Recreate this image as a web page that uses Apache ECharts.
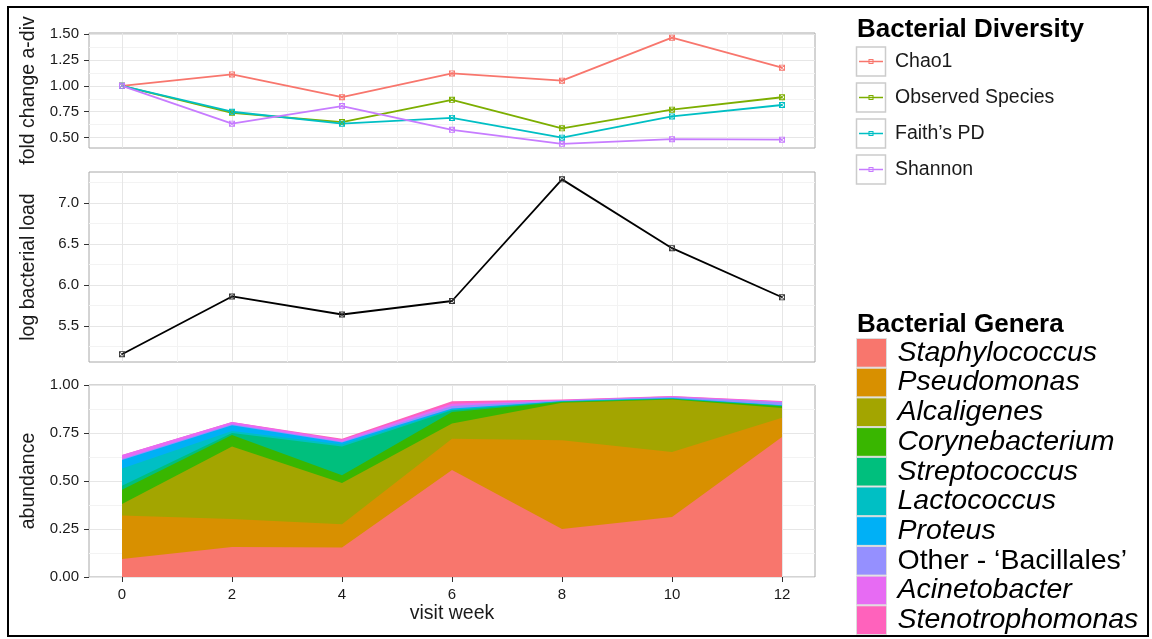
<!DOCTYPE html>
<html>
<head>
<meta charset="utf-8">
<script src="https://cdn.jsdelivr.net/npm/echarts@6.0.0/dist/echarts.min.js"></script>
<style>
  html, body { margin: 0; padding: 0; background: #fff; }
  #chart { width: 1152px; height: 639px; }
</style>
</head>
<body>
<div id="chart"></div>
<script>
  // visit weeks (shared x)
  var weeks = [0, 2, 4, 6, 8, 10, 12];
  var weekTicks = [0, 2, 4, 6, 8, 10, 12];
  var weekMinor = [1, 3, 5, 7, 9, 11];

  // fold change alpha diversity
  var chao1 = [1.00, 1.11, 0.89, 1.12, 1.05, 1.465, 1.175];
  var observedSpecies = [1.00, 0.74, 0.65, 0.865, 0.59, 0.77, 0.89];
  var faithsPD = [1.00, 0.75, 0.635, 0.69, 0.50, 0.705, 0.815];
  var shannon = [1.00, 0.635, 0.805, 0.575, 0.44, 0.485, 0.48];
  var divTicks = [0.50, 0.75, 1.00, 1.25, 1.50];
  var divMinor = [0.625, 0.875, 1.125, 1.375];

  // log bacterial load
  var bacterialLoad = [5.155, 5.86, 5.64, 5.805, 7.29, 6.45, 5.85];
  var loadTicks = [5.5, 6.0, 6.5, 7.0];
  var loadMinor = [5.25, 5.75, 6.25, 6.75, 7.25];

  // relative abundance per genus (stacked, bottom to top)
  var staphylococcus = [0.094, 0.156, 0.153, 0.557, 0.25, 0.313, 0.729];
  var pseudomonas = [0.226, 0.146, 0.122, 0.163, 0.462, 0.338, 0.101];
  var alcaligenes = [0.06, 0.378, 0.215, 0.08, 0.196, 0.273, 0.05];
  var corynebacterium = [0.075, 0.06, 0.04, 0.06, 0.004, 0.003, 0.009];
  var streptococcus = [0.02, 0.01, 0.15, 0.008, 0.002, 0.002, 0.002];
  var lactococcus = [0.09, 0.01, 0.01, 0.005, 0.001, 0.001, 0.002];
  var proteus = [0.045, 0.03, 0.01, 0.005, 0.001, 0.002, 0.002];
  var otherBacillales = [0.005, 0.005, 0.005, 0.012, 0.004, 0.006, 0.015];
  var acinetobacter = [0.02, 0.012, 0.01, 0.012, 0.002, 0.003, 0.004];
  var stenotrophomonas = [0.0, 0.0, 0.005, 0.013, 0.002, 0.002, 0.003];
  var abundTicks = [0, 0.25, 0.5, 0.75, 1.0];
  var abundMinor = [0.125, 0.375, 0.625, 0.875];

  var FONT = '"Liberation Sans", Arial, sans-serif';
  var TXT = '#1a1a1a';

  // square-with-cross marker (ggplot shape 7)
  var boxX = 'path://M0,0H10V10H0Z M1.5,1.5V8.5H8.5V1.5Z M0.8,0L5,4.2L9.2,0L10,0.8L5.8,5L10,9.2L9.2,10L5,5.8L0.8,10L0,9.2L4.2,5L0,0.8Z';
  // legend key: line + small square
  var keyIcon = 'path://M0,0h0.01v0.01h-0.01Z M29.99,28.99h0.01v0.01h-0.01Z M3,13.7H27V15.3H3Z M12.5,12H17.5V17H12.5Z M13.5,13V16H16.5V13Z';

  function pairs(vals) {
    return weeks.map(function (w, i) { return [w, vals[i]]; });
  }

  var grids = [
    {left: 89, top: 33, width: 726, height: 115},
    {left: 89, top: 172, width: 726, height: 190},
    {left: 89, top: 385, width: 726, height: 192}
  ].map(function (g) {
    g.show = true;
    g.borderColor = '#a8a8a8';
    g.borderWidth = 1;
    g.backgroundColor = 'transparent';
    return g;
  });

  function mainX(gi, showLabels) {
    return {
      type: 'value', gridIndex: gi, min: -0.6, max: 12.6,
      axisLine: {show: false, onZero: false},
      axisTick: {show: showLabels, customValues: weekTicks, length: 5, lineStyle: {color: '#333'}},
      axisLabel: {show: showLabels, customValues: weekTicks, margin: 10, fontSize: 15, fontFamily: FONT, color: TXT},
      splitLine: {show: true, lineStyle: {color: '#e6e6e6', width: 1}},
      name: showLabels ? 'visit week' : '',
      nameLocation: 'middle', nameGap: 27,
      nameTextStyle: {fontSize: 19.5, fontFamily: FONT, color: TXT}
    };
  }
  function minorX(gi) {
    return {
      type: 'value', gridIndex: gi, min: -0.6, max: 12.6, position: 'bottom',
      axisLine: {show: false, onZero: false},
      axisTick: {show: false, customValues: weekMinor},
      axisLabel: {show: false},
      splitLine: {show: true, lineStyle: {color: '#f3f3f3', width: 1}}
    };
  }
  function mainY(gi, min, max, ticks, dec, name) {
    return {
      type: 'value', gridIndex: gi, min: min, max: max,
      axisLine: {show: false, onZero: false},
      axisTick: {show: true, customValues: ticks, length: 5, lineStyle: {color: '#333'}},
      axisLabel: {customValues: ticks, margin: 10, fontSize: 15, fontFamily: FONT, color: TXT,
        formatter: function (v) { return v.toFixed(dec); }},
      splitLine: {show: true, lineStyle: {color: '#e6e6e6', width: 1}},
      name: name, nameLocation: 'middle', nameRotate: 90, nameGap: 50,
      nameTextStyle: {fontSize: 19.5, fontFamily: FONT, color: TXT}
    };
  }
  function minorY(gi, min, max, ticks) {
    return {
      type: 'value', gridIndex: gi, min: min, max: max, position: 'left',
      axisLine: {show: false, onZero: false},
      axisTick: {show: false, customValues: ticks},
      axisLabel: {show: false},
      splitLine: {show: true, lineStyle: {color: '#f3f3f3', width: 1}}
    };
  }

  var divSeries = [
    ['Chao1', chao1, '#F8766D'],
    ['Observed Species', observedSpecies, '#7CAE00'],
    ['Faith\u2019s PD', faithsPD, '#00BFC4'],
    ['Shannon', shannon, '#C77CFF']
  ].map(function (s) {
    return {
      name: s[0], type: 'line', xAxisIndex: 0, yAxisIndex: 0,
      data: pairs(s[1]), symbol: boxX, symbolSize: 6,
      itemStyle: {color: s[2]}, lineStyle: {color: s[2], width: 1.8},
      z: 5
    };
  });

  var loadSeries = {
    name: 'load', type: 'line', xAxisIndex: 1, yAxisIndex: 1,
    data: pairs(bacterialLoad), symbol: boxX, symbolSize: 6,
    itemStyle: {color: '#333'}, lineStyle: {color: '#000', width: 1.8}, z: 5
  };

  var genera = [
    ['Staphylococcus', staphylococcus, '#F8766D'],
    ['Pseudomonas', pseudomonas, '#D89000'],
    ['Alcaligenes', alcaligenes, '#A3A500'],
    ['Corynebacterium', corynebacterium, '#39B600'],
    ['Streptococcus', streptococcus, '#00BF7D'],
    ['Lactococcus', lactococcus, '#00BFC4'],
    ['Proteus', proteus, '#00B0F6'],
    ['Other - \u2018Bacillales\u2019', otherBacillales, '#9590FF'],
    ['Acinetobacter', acinetobacter, '#E76BF3'],
    ['Stenotrophomonas', stenotrophomonas, '#FF62BC']
  ];
  // running totals so each layer's area reaches the top of its band;
  // drawn top band first so lower bands paint over it
  var running = weeks.map(function () { return 0; });
  var genusSeries = genera.map(function (g) {
    running = running.map(function (r, i) { return r + g[1][i]; });
    return {
      name: g[0], type: 'line', xAxisIndex: 2, yAxisIndex: 2,
      data: pairs(running), showSymbol: false, symbol: 'none',
      itemStyle: {color: g[2]}, lineStyle: {width: 0, color: g[2]},
      areaStyle: {color: g[2], opacity: 1}, z: 3
    };
  }).reverse();

  var keyFrames = [0, 1, 2, 3].map(function (i) {
    return {
      type: 'rect', shape: {x: 856.5, y: 47 + i * 36, width: 29, height: 29},
      style: {fill: 'none', stroke: '#cccccc', lineWidth: 1.5}, z: 1
    };
  });

  var option = {
    animation: false,
    backgroundColor: '#fff',
    title: [
      {text: 'Bacterial Diversity', left: 857, top: 17, padding: 0,
        textStyle: {fontSize: 26, fontWeight: 'bold', fontFamily: FONT, color: '#000'}},
      {text: 'Bacterial Genera', left: 857, top: 312, padding: 0,
        textStyle: {fontSize: 26, fontWeight: 'bold', fontFamily: FONT, color: '#000'}}
    ],
    legend: [
      {
        orient: 'vertical', left: 856, top: 47, padding: 0,
        itemWidth: 30, itemHeight: 29, itemGap: 7, selectedMode: false,
        data: divSeries.map(function (s) { return {name: s.name, icon: keyIcon}; }),
        itemStyle: {borderWidth: 0},
        textStyle: {fontSize: 19.5, fontFamily: FONT, color: TXT, padding: [0, 0, 0, 4]}
      },
      {
        orient: 'vertical', left: 856, top: 338, padding: 0,
        itemWidth: 30, itemHeight: 28.7, itemGap: 0, selectedMode: false,
        data: genera.map(function (g) {
          return {name: g[0], icon: 'rect',
            textStyle: {fontStyle: g[0].indexOf('Other') === 0 ? 'normal' : 'italic'}};
        }),
        itemStyle: {borderColor: '#dcdcdc', borderWidth: 1},
        textStyle: {fontSize: 28.5, lineHeight: 28, fontFamily: FONT, color: '#000', padding: [0, 0, 0, 6]}
      }
    ],
    grid: grids,
    xAxis: [mainX(0, false), mainX(1, false), mainX(2, true), minorX(0), minorX(1), minorX(2)],
    yAxis: [
      mainY(0, 0.40, 1.51, divTicks, 2, 'fold change a-div'),
      mainY(1, 5.06, 7.38, loadTicks, 1, 'log bacterial load'),
      mainY(2, 0, 1, abundTicks, 2, 'abundance'),
      minorY(0, 0.40, 1.51, divMinor),
      minorY(1, 5.06, 7.38, loadMinor),
      minorY(2, 0, 1, abundMinor)
    ],
    graphic: [
      {type: 'rect', shape: {x: 8, y: 7, width: 1140, height: 629},
        style: {fill: 'none', stroke: '#000', lineWidth: 2}, z: 100}
    ].concat(keyFrames),
    series: divSeries.concat([loadSeries]).concat(genusSeries)
  };

  var myChart = echarts.init(document.getElementById('chart'), null, {renderer: 'canvas'});
  myChart.setOption(option);
</script>
</body>
</html>
